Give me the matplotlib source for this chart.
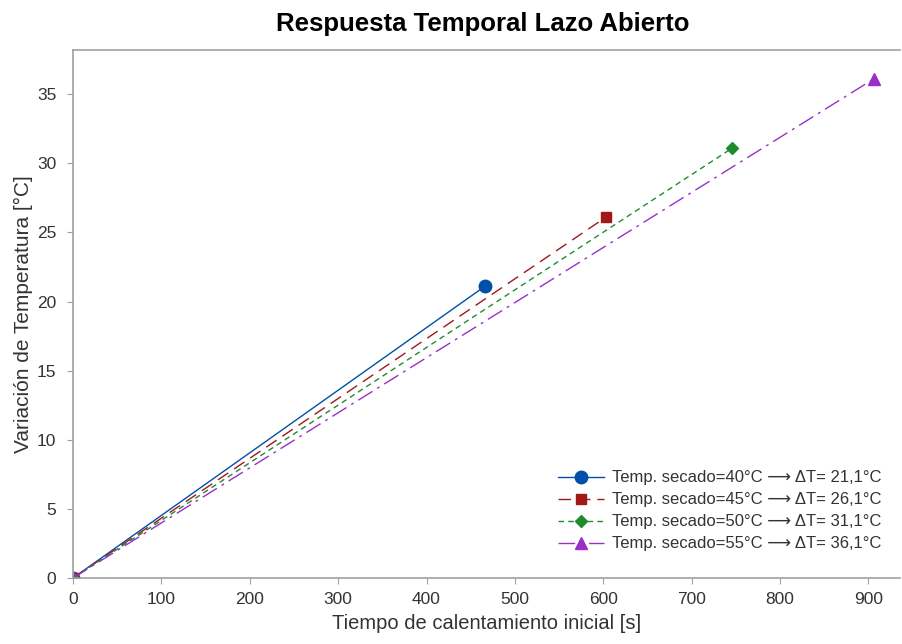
import matplotlib
matplotlib.use("Agg")
import matplotlib.pyplot as plt

plt.rcParams['font.family'] = ['Liberation Sans', 'DejaVu Sans']

# datos: inicio y fin de cada ensayo
t_40 = [0, 466]
dT_40 = [0, 21.1]
t_45 = [0, 603]
dT_45 = [0, 26.1]
t_50 = [0, 746]
dT_50 = [0, 31.1]
t_55 = [0, 906]
dT_55 = [0, 36.1]

labels = ["Temp. secado=40°C ⟶ ΔT= 21,1°C",
          "Temp. secado=45°C ⟶ ΔT= 26,1°C",
          "Temp. secado=50°C ⟶ ΔT= 31,1°C",
          "Temp. secado=55°C ⟶ ΔT= 36,1°C"]

fig = plt.figure(figsize=(9.02, 6.44), dpi=100)
ax = fig.add_axes([0.081, 0.1025, 0.917, 0.82])

ax.plot(t_40, dT_40, color="#0050a8", lw=1.0, ls="-", marker="o", ms=9, markevery=[0, -1], label=labels[0])
ax.plot(t_45, dT_45, color="#a01818", lw=1.0, ls=(0, (9, 5)), marker="s", ms=7, markevery=[0, -1], label=labels[1])
ax.plot(t_50, dT_50, color="#1e8c2e", lw=1.0, ls=(0, (4, 3)), marker="D", ms=6, markevery=[0, -1], label=labels[2])
ax.plot(t_55, dT_55, color="#9a2fc8", lw=1.0, ls=(0, (12, 4, 2, 4)), marker="^", ms=8, markevery=[0, -1], label=labels[3])

ax.set_xlim(0, 936)
ax.set_ylim(0, 38.2)
ax.set_xticks(range(0, 901, 100))
ax.set_yticks(range(0, 36, 5))

for s in ["left", "top", "bottom"]:
    ax.spines[s].set_color("#a0a0a0")
    ax.spines[s].set_linewidth(1.2)
ax.spines["right"].set_visible(False)
ax.tick_params(colors="#a0a0a0", labelcolor="#333333", labelsize=12.5, length=4)
ax.tick_params(axis="y", pad=8)
ax.tick_params(axis="x", pad=6)

ax.set_xlabel("Tiempo de calentamiento inicial [s]", fontsize=14.5, color="#333333", labelpad=5)
ax.set_ylabel("Variación de Temperatura [°C]", fontsize=15, color="#333333", labelpad=3)
fig.suptitle("Respuesta Temporal Lazo Abierto", fontsize=18.5, fontweight="bold", x=0.535, y=0.982)

ax.legend(loc="lower right", frameon=False, fontsize=12, handlelength=2.75, handletextpad=0.45,
          labelspacing=0.42, bbox_to_anchor=(0.995, 0.022), labelcolor="#333333")

fig.savefig("out.png", dpi=100)
